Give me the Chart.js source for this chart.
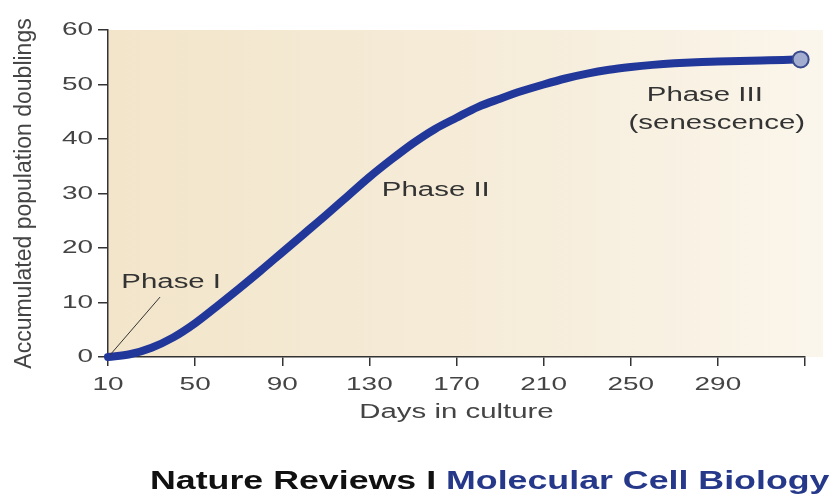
<!DOCTYPE html>
<html>
<head>
<meta charset="utf-8">
<script src="https://cdn.jsdelivr.net/npm/chart.js@4"></script>
<style>
html,body{margin:0;padding:0;background:#fff;}
#wrap{position:relative;width:831px;height:494px;overflow:hidden;}
#footer{position:absolute;left:150px;top:468px;font-family:"Liberation Sans",Arial,sans-serif;font-weight:bold;font-size:25px;line-height:25px;white-space:nowrap;transform:scaleX(1.43);transform-origin:0 0;}
#footer .a{color:#111;}
#footer .b{color:#26388a;}
</style>
</head>
<body>
<div id="wrap">
<canvas id="c" width="831" height="494"></canvas>
<div id="footer"><span class="a">Nature Reviews I </span><span class="b">Molecular Cell Biology</span></div>
</div>
<script>
const days = [10,20,30,40,50,60,70,80,90,100,110,120,130,140,150,160,170,180,190,200,210,220,230,240,250,260,270,280,290,300,310,320,328];
const doublings = [0,0.5,1.7,3.6,6.2,9.3,12.5,15.8,19.2,22.6,26,29.5,33,36.2,39.2,41.8,43.9,45.9,47.4,48.8,50,51.1,52,52.7,53.2,53.6,53.9,54.1,54.2,54.3,54.4,54.5,54.6];
const xTicks = [10,50,90,130,170,210,250,290,330];
const yTicks = [0,10,20,30,40,50,60];
const annotations = [
  {text:"Phase I", x:39, y:13.6},
  {text:"Phase II", x:160.5, y:30.6},
  {text:"Phase III", x:284, y:47.9},
  {text:"(senescence)", x:289.5, y:42.8}
];

const FONT = '"Liberation Sans", Arial, sans-serif';
const GREY = '#444';
const STRETCH = 1.47;

// horizontal text stretch (the reference lettering is extended); rotated text is left as is
const canvas = document.getElementById('c');
const ctx0 = canvas.getContext('2d');
const nativeFill = CanvasRenderingContext2D.prototype.fillText;
ctx0.fillText = function(t, x, y, mw){
  const m = this.getTransform();
  if (Math.abs(m.b) > 1e-6 || Math.abs(m.c) > 1e-6) {
    return mw === undefined ? nativeFill.call(this, t, x, y) : nativeFill.call(this, t, x, y, mw);
  }
  this.save();
  this.translate(x, y);
  this.scale(STRETCH, 1);
  nativeFill.call(this, t, 0, 0);
  this.restore();
};

const bgPlugin = {
  id:'bg',
  beforeDraw(chart){
    const {ctx, chartArea:a} = chart;
    const g = ctx.createLinearGradient(a.left,0,a.right+20,0);
    g.addColorStop(0,'#f2e5ca');
    g.addColorStop(0.6,'#f6eddb');
    g.addColorStop(1,'#fbf6ec');
    ctx.save();
    ctx.fillStyle = g;
    ctx.fillRect(a.left, a.top, a.right - a.left + 18, a.bottom - a.top);
    ctx.restore();
  }
};

const annPlugin = {
  id:'ann',
  afterDatasetsDraw(chart){
    const {ctx, scales:{x,y}} = chart;
    ctx.save();
    ctx.font = '20px ' + FONT;
    ctx.fillStyle = '#333';
    ctx.textAlign = 'center';
    ctx.textBaseline = 'middle';
    annotations.forEach(a => ctx.fillText(a.text, x.getPixelForValue(a.x), y.getPixelForValue(a.y)));
    ctx.strokeStyle = '#333';
    ctx.lineWidth = 1;
    ctx.beginPath();
    ctx.moveTo(x.getPixelForValue(10)+2, y.getPixelForValue(0)-2);
    ctx.lineTo(x.getPixelForValue(33.9), y.getPixelForValue(11));
    ctx.stroke();
    ctx.restore();
  }
};

new Chart(canvas, {
  type:'line',
  data:{
    datasets:[{
      data: days.map((d,i)=>({x:d, y:doublings[i]})),
      borderColor:'#22379a',
      borderWidth:8,
      cubicInterpolationMode:'monotone',
      pointRadius: c => c.dataIndex === days.length-1 ? 8 : 0,
      pointHoverRadius:0,
      pointBackgroundColor:'#a3adcf',
      pointBorderColor:'#3a4a8c',
      pointBorderWidth:2,
      borderCapStyle:'round',
      clip:false
    }]
  },
  plugins:[bgPlugin, annPlugin],
  options:{
    responsive:false,
    animation:false,
    layout:{padding:{top:30,right:26,bottom:70,left:0}},
    plugins:{legend:{display:false}, tooltip:{enabled:false}},
    scales:{
      x:{
        type:'linear', min:10, max:330,
        afterBuildTicks: s => { s.ticks = xTicks.map(v=>({value:v})); },
        afterFit: s => { s.height = 67; },
        border:{display:true, color:'#333', width:1.5},
        grid:{drawOnChartArea:false, drawTicks:true, tickLength:9, color:'#333', lineWidth:1.5},
        ticks:{font:{family:FONT,size:19}, color:GREY, padding:7, maxRotation:0, autoSkip:false,
          callback: v => v === 330 ? '' : String(v)},
        title:{display:true, text:'Days in culture', font:{family:FONT,size:20}, color:GREY, padding:0}
      },
      y:{
        type:'linear', min:0, max:60,
        afterBuildTicks: s => { s.ticks = yTicks.map(v=>({value:v})); },
        afterFit: s => { s.width = 108; },
        border:{display:true, color:'#333', width:1.5},
        grid:{drawOnChartArea:false, drawTicks:true, tickLength:10, color:'#333', lineWidth:1.5},
        ticks:{font:{family:FONT,size:19}, color:GREY, padding:5},
        title:{display:true, text:'Accumulated population doublings', font:{family:FONT,size:23}, color:GREY, padding:{top:11,bottom:0}}
      }
    }
  }
});
</script>
</body>
</html>
